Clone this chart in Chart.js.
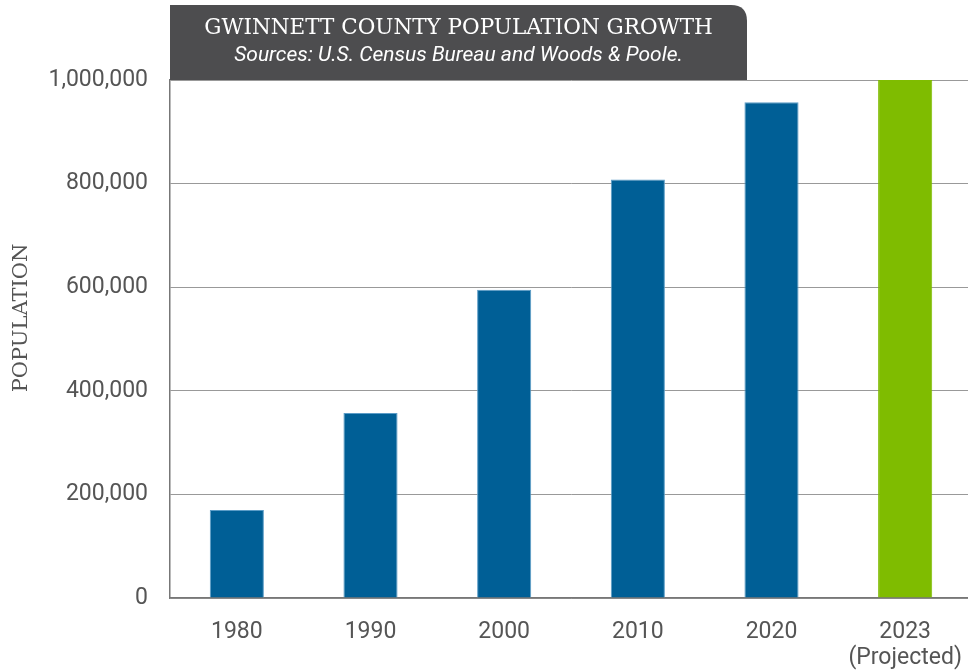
<!DOCTYPE html>
<html>
<head>
<meta charset="utf-8">
<script src="https://cdn.jsdelivr.net/npm/chart.js@4"></script>
<style>
  html, body { margin: 0; padding: 0; background: #fff; overflow: hidden; }
  #wrap { width: 972px; height: 671px; position: relative; }
</style>
</head>
<body>
<div id="wrap"><canvas id="popChart"></canvas></div>
<script>
const years = ['1980', '1990', '2000', '2010', '2020', ['2023', '(Projected)']];
const population = [170000, 357000, 595000, 808000, 957000, 1000000];
const barColors = ['#005f96', '#005f96', '#005f96', '#005f96', '#005f96', '#7fbc00'];
const titleText = 'GWINNETT COUNTY POPULATION GROWTH';
const subtitleText = 'Sources: U.S. Census Bureau and Woods & Poole.';
const yTitle = 'POPULATION';

// header box + y axis title
const headerBox = {
  id: 'headerBox',
  afterDraw(chart) {
    const { ctx, chartArea } = chart;
    const x0 = chartArea.left, x1 = 747, y0 = 5, y1 = chartArea.top, r = 16;
    ctx.save();
    ctx.fillStyle = '#4d4d4f';
    ctx.beginPath();
    ctx.moveTo(x0, y1);
    ctx.lineTo(x0, y0);
    ctx.lineTo(x1 - r, y0);
    ctx.quadraticCurveTo(x1, y0, x1, y0 + r);
    ctx.lineTo(x1, y1);
    ctx.closePath();
    ctx.fill();
    const cx = (x0 + x1) / 2;
    ctx.fillStyle = '#fff';
    ctx.textAlign = 'center';
    ctx.textBaseline = 'middle';
    ctx.font = '21.5px "DejaVu Serif"';
    ctx.fillText(titleText, cx, 28);
    ctx.font = 'italic 21px Roboto';
    ctx.fillText(subtitleText, cx, 56);

    ctx.translate(22, 318);
    ctx.rotate(-Math.PI / 2);
    ctx.fillStyle = '#555';
    ctx.font = '21px "DejaVu Serif"';
    ctx.fillText(yTitle, 0, 0);
    ctx.restore();
  }
};

new Chart(document.getElementById('popChart'), {
  type: 'bar',
  data: {
    labels: years,
    datasets: [{
      data: population,
      backgroundColor: barColors,
      borderColor: barColors.map(c => c === '#005f96' ? '#5b9cc7' : c),
      borderWidth: 1,
      categoryPercentage: 1,
      barPercentage: 0.405
    }]
  },
  options: {
    responsive: true,
    maintainAspectRatio: false,
    animation: false,
    layout: { padding: { top: 80, right: 0, bottom: 0, left: 0 } },
    plugins: {
      legend: { display: false },
      tooltip: { enabled: false }
    },
    scales: {
      x: {
        afterFit(scale) {
          scale.height = 73;
          scale.paddingLeft = 0;
          scale.paddingRight = 0;
        },
        grid: { display: false },
        border: { color: '#777', width: 1.5 },
        ticks: { color: '#555', font: { family: 'Roboto', size: 23, lineHeight: 1.15 }, padding: 13 }
      },
      y: {
        min: 0,
        max: 1000000,
        afterFit(scale) { scale.width = 170; },
        ticks: {
          stepSize: 200000,
          color: '#555',
          padding: 22,
          font: { family: 'Roboto', size: 23 },
          callback: v => v.toLocaleString('en-US')
        },
        grid: { color: '#999', lineWidth: 1, drawTicks: false },
        border: { color: '#777', width: 1.5 }
      }
    }
  },
  plugins: [headerBox]
});
</script>
</body>
</html>
